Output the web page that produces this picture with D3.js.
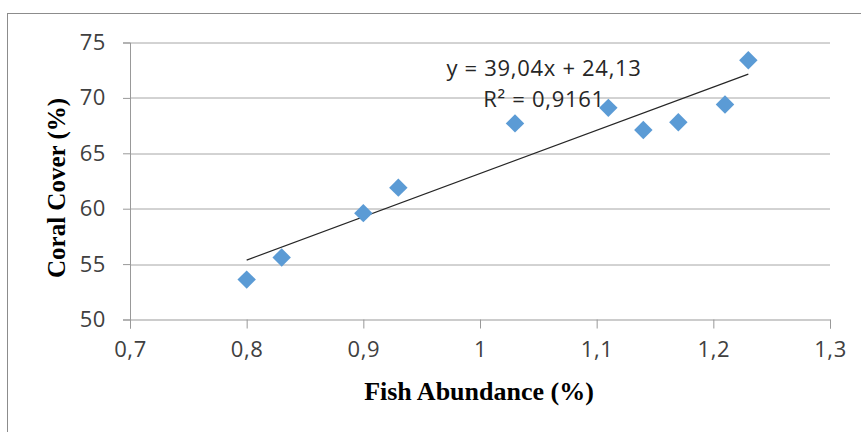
<!DOCTYPE html>
<html>
<head>
  <title>Coral Cover vs Fish Abundance</title>
  <script src="https://d3js.org/d3.v7.min.js"></script>
  <style>
    body { margin: 0; background: #fff; }
  </style>
</head>
<body>
  <svg id="chart" width="861" height="432"></svg>

  <script>
    // Data
    var fishAbundance = [0.80, 0.83, 0.90, 0.93, 1.03, 1.11, 1.14, 1.17, 1.21, 1.23];
    var coralCover = [53.6, 55.6, 59.6, 61.9, 67.7, 69.1, 67.1, 67.8, 69.4, 73.4];
    var xTicks = [0.7, 0.8, 0.9, 1.0, 1.1, 1.2, 1.3];
    var yTicks = [50, 55, 60, 65, 70, 75];
    var slope = 39.04, intercept = 24.13;
    var equationLines = ["y = 39,04x + 24,13", "R² = 0,9161"];

    var margin = { top: 42.5, right: 31, bottom: 112.5, left: 130 };
    var width = 861 - margin.left - margin.right;
    var height = 432 - margin.top - margin.bottom;

    var svg = d3.select("#chart");

    // Outer chart frame (runs off the right and bottom edges)
    svg.append("rect")
      .attr("x", 7.5)
      .attr("y", 13.5)
      .attr("width", 900)
      .attr("height", 500)
      .attr("fill", "none")
      .attr("stroke", "#8c8c8c")
      .attr("stroke-width", 1);

    var g = svg.append("g")
      .attr("transform", "translate(" + margin.left + "," + margin.top + ")");

    var xScale = d3.scaleLinear().domain([0.7, 1.3]).range([0, width]);
    var yScale = d3.scaleLinear().domain([50, 75]).range([height, 0]);

    var commaFmt = function(d) { return String(+d.toFixed(1)).replace(".", ","); };

    // Horizontal gridlines
    g.selectAll("line.grid")
      .data(yTicks.filter(function(d) { return d > 50; }))
      .enter()
      .append("line")
      .attr("class", "grid")
      .attr("x1", 0)
      .attr("x2", width)
      .attr("y1", function(d) { return Math.round(yScale(d)) + 0.5; })
      .attr("y2", function(d) { return Math.round(yScale(d)) + 0.5; })
      .attr("stroke", "#a6a6a6");

    // Y axis
    var yAxis = g.append("g")
      .call(d3.axisLeft(yScale).tickValues(yTicks).tickSize(7).tickPadding(17));
    // X axis
    var xAxis = g.append("g")
      .attr("transform", "translate(0," + height + ")")
      .call(d3.axisBottom(xScale).tickValues(xTicks).tickSize(9).tickFormat(commaFmt).tickPadding(13));

    [xAxis, yAxis].forEach(function(ax) {
      ax.selectAll(".domain, line").attr("stroke", "#999999");
      ax.selectAll("text")
        .attr("font-family", "'Open Sans', sans-serif")
        .attr("font-size", "22px")
        .attr("letter-spacing", "0.6px")
        .attr("fill", "#404040");
    });

    // Trend line
    var trendX = d3.extent(fishAbundance);
    g.append("line")
      .attr("x1", xScale(trendX[0]))
      .attr("y1", yScale(slope * trendX[0] + intercept))
      .attr("x2", xScale(trendX[1]))
      .attr("y2", yScale(slope * trendX[1] + intercept))
      .attr("stroke", "#262626")
      .attr("stroke-width", 1.2);

    // Diamond markers
    var diamond = d3.symbol().type(d3.symbolSquare).size(170);
    g.selectAll("path.point")
      .data(fishAbundance)
      .enter()
      .append("path")
      .attr("class", "point")
      .attr("d", diamond)
      .attr("transform", function(d, i) {
        return "translate(" + xScale(d) + "," + yScale(coralCover[i]) + ") rotate(45)";
      })
      .attr("fill", "#5b9bd5");

    // Equation label
    g.selectAll("text.eq")
      .data(equationLines)
      .enter()
      .append("text")
      .attr("class", "eq")
      .attr("x", 544 - margin.left)
      .attr("y", function(d, i) { return 76 + i * 30.5 - margin.top; })
      .attr("text-anchor", "middle")
      .attr("font-family", "'Open Sans', sans-serif")
      .attr("font-size", "22px")
      .attr("letter-spacing", "0.7px")
      .attr("fill", "#262626")
      .text(function(d) { return d; });

    // Axis titles
    svg.append("text")
      .attr("x", 479)
      .attr("y", 400)
      .attr("text-anchor", "middle")
      .attr("font-family", "'Liberation Serif', 'Times New Roman', serif")
      .attr("font-weight", "bold")
      .attr("font-size", "26px")
      .attr("fill", "#000")
      .text("Fish Abundance (%)");

    svg.append("text")
      .attr("transform", "translate(65,188) rotate(-90)")
      .attr("text-anchor", "middle")
      .attr("font-family", "'Liberation Serif', 'Times New Roman', serif")
      .attr("font-weight", "bold")
      .attr("font-size", "25px")
      .attr("fill", "#000")
      .text("Coral Cover (%)");
  </script>
</body>
</html>
